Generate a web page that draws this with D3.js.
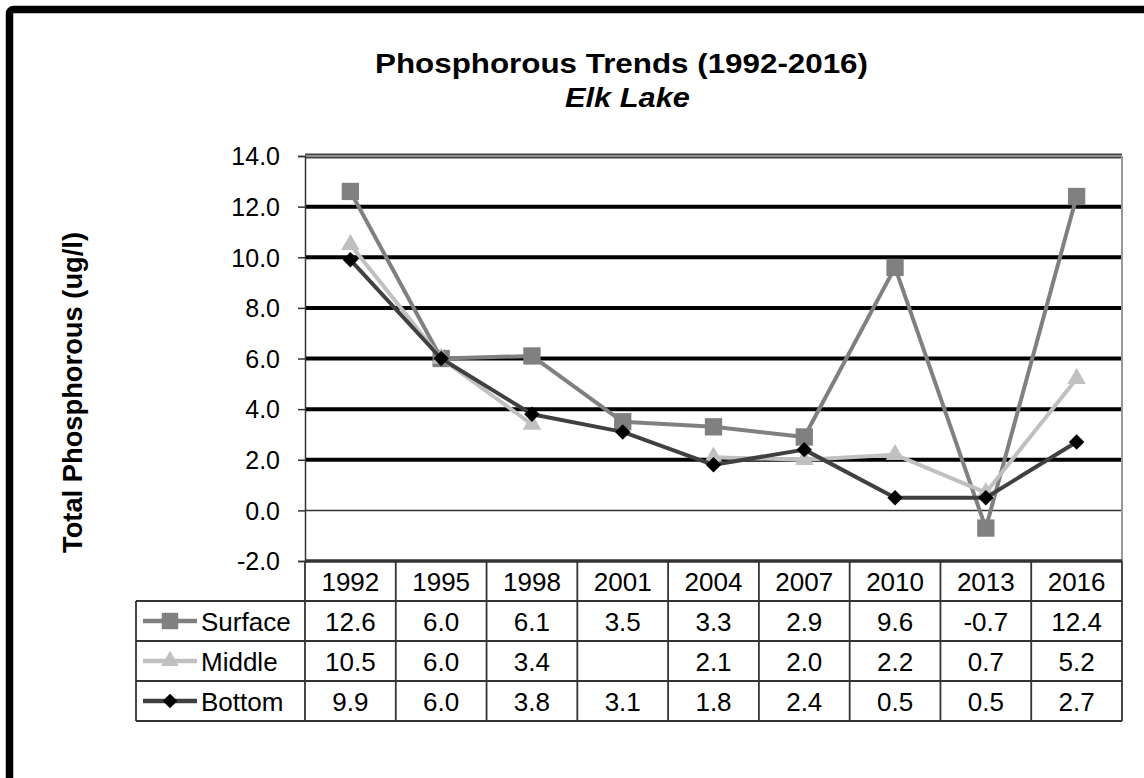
<!DOCTYPE html>
<html>
<head>
<meta charset="utf-8">
<script src="https://cdn.jsdelivr.net/npm/d3@7"></script>
<style>
  body { margin: 0; background: #fff; }
  svg { display: block; font-family: "Liberation Sans", Arial, sans-serif; }
</style>
</head>
<body>
<svg id="chart" width="1144" height="778"></svg>
<script>
// data
const years = ['1992', '1995', '1998', '2001', '2004', '2007', '2010', '2013', '2016'];
const surface = [12.6, 6.0, 6.1, 3.5, 3.3, 2.9, 9.6, -0.7, 12.4];
const middle = [10.5, 6.0, 3.4, null, 2.1, 2.0, 2.2, 0.7, 5.2];
const bottom = [9.9, 6.0, 3.8, 3.1, 1.8, 2.4, 0.5, 0.5, 2.7];
const seriesNames = ['Surface', 'Middle', 'Bottom'];
const yTicks = [-2, 0, 2, 4, 6, 8, 10, 12, 14];

const seriesValues = [surface, middle, bottom];
const lineColors = ['#808080', '#c0c0c0', '#404040'];
const markerColors = ['#808080', '#c0c0c0', '#000000'];
const markerTypes = [d3.symbolSquare, d3.symbolTriangle, d3.symbolSquare];
const markerSizes = [300, 150, 120];
const markerRotate = [0, 0, 45];

const plot = {left: 305, right: 1122, top: 156, bottom: 561};
const rowH = 40;
const tableLeft = 136;

// plain hyphen for negatives, like the source sheet
const fmt = v => v.toFixed(1);

const svg = d3.select('#chart');

const x = d3.scaleBand()
  .domain(years)
  .range([plot.left, plot.right])
  .padding(0);

const y = d3.scaleLinear()
  .domain([-2, 14])
  .range([plot.bottom, plot.top]);

const cx = d => x(d) + x.bandwidth() / 2;

// outer frame
svg.append('rect')
  .attr('x', 9.5)
  .attr('y', 9.5)
  .attr('width', 1200)
  .attr('height', 900)
  .attr('rx', 4)
  .attr('fill', 'none')
  .attr('stroke', '#000')
  .attr('stroke-width', 7.5);

// titles
svg.append('text')
  .attr('x', 375)
  .attr('y', 73)
  .attr('font-size', 27)
  .attr('font-weight', 'bold')
  .attr('textLength', 493)
  .attr('lengthAdjust', 'spacingAndGlyphs')
  .text('Phosphorous Trends (1992-2016)');

svg.append('text')
  .attr('x', 565)
  .attr('y', 107)
  .attr('font-size', 27)
  .attr('font-weight', 'bold')
  .attr('font-style', 'italic')
  .attr('textLength', 125)
  .attr('lengthAdjust', 'spacingAndGlyphs')
  .text('Elk Lake');

svg.append('text')
  .attr('transform', 'translate(82,392.5) rotate(-90)')
  .attr('text-anchor', 'middle')
  .attr('font-size', 28)
  .attr('font-weight', 'bold')
  .attr('textLength', 321)
  .attr('lengthAdjust', 'spacingAndGlyphs')
  .text('Total Phosphorous (ug/l)');

// gridlines
const grid = svg.append('g');
grid.selectAll('line')
  .data(yTicks.filter(t => t > 0 && t < 14))
  .enter().append('line')
  .attr('x1', plot.left)
  .attr('x2', plot.right)
  .attr('y1', d => y(d))
  .attr('y2', d => y(d))
  .attr('stroke', '#000')
  .attr('stroke-width', 4);

grid.append('line')
  .attr('x1', plot.left).attr('x2', plot.right)
  .attr('y1', y(0)).attr('y2', y(0))
  .attr('stroke', '#333')
  .attr('stroke-width', 1.5);

// top edge of the plot (double line look)
grid.append('line')
  .attr('x1', plot.left).attr('x2', plot.right)
  .attr('y1', y(14)).attr('y2', y(14))
  .attr('stroke', '#444')
  .attr('stroke-width', 5);
grid.append('line')
  .attr('x1', plot.left).attr('x2', plot.right)
  .attr('y1', y(14)).attr('y2', y(14))
  .attr('stroke', '#aaa')
  .attr('stroke-width', 1.5);

// right edge of plot
grid.append('line')
  .attr('x1', plot.right).attr('x2', plot.right)
  .attr('y1', plot.top).attr('y2', plot.bottom)
  .attr('stroke', '#999')
  .attr('stroke-width', 2);

// y axis
const yAxis = d3.axisLeft(y)
  .tickValues(yTicks)
  .tickSize(7)
  .tickFormat(fmt);

const axisG = svg.append('g')
  .attr('transform', `translate(${plot.left},0)`)
  .call(yAxis);
axisG.select('.domain').attr('stroke', '#333').attr('stroke-width', 1.5);
axisG.selectAll('.tick line').attr('stroke', '#333').attr('stroke-width', 1.5);
axisG.selectAll('.tick text')
  .attr('x', -25)
  .attr('dy', '0.35em')
  .attr('font-size', 25)
  .attr('font-family', '"Liberation Sans", Arial, sans-serif')
  .attr('fill', '#000');

// series lines and markers
const line = d3.line()
  .defined(d => d.v != null)
  .x(d => cx(d.year))
  .y(d => y(d.v));

seriesValues.forEach((vals, s) => {
  const pts = vals.map((v, i) => ({year: years[i], v: v}));
  svg.append('path')
    .datum(pts)
    .attr('d', line)
    .attr('fill', 'none')
    .attr('stroke', lineColors[s])
    .attr('stroke-width', 4)
    .attr('stroke-linejoin', 'round');

  svg.append('g').selectAll('path')
    .data(pts.filter(d => d.v != null))
    .enter().append('path')
    .attr('transform', d => `translate(${cx(d.year)},${y(d.v)}) rotate(${markerRotate[s]})`)
    .attr('d', d3.symbol().type(markerTypes[s]).size(markerSizes[s]))
    .attr('fill', markerColors[s]);
});

// plot bottom edge / table top
svg.append('line')
  .attr('x1', plot.left).attr('x2', plot.right)
  .attr('y1', plot.bottom).attr('y2', plot.bottom)
  .attr('stroke', '#333')
  .attr('stroke-width', 3.5);

// data table
const table = svg.append('g')
  .attr('stroke', '#333')
  .attr('stroke-width', 1.8);

const tableTop = plot.bottom;
const tableBottom = tableTop + rowH * 4;

// column lines
table.selectAll('.col')
  .data(years.concat(['end']))
  .enter().append('line')
  .attr('x1', (d, i) => plot.left + i * x.bandwidth())
  .attr('x2', (d, i) => plot.left + i * x.bandwidth())
  .attr('y1', tableTop)
  .attr('y2', tableBottom);

// row lines
table.selectAll('.row')
  .data([1, 2, 3, 4])
  .enter().append('line')
  .attr('x1', tableLeft)
  .attr('x2', plot.right)
  .attr('y1', d => tableTop + d * rowH)
  .attr('y2', d => tableTop + d * rowH);

table.append('line')
  .attr('x1', tableLeft).attr('x2', tableLeft)
  .attr('y1', tableTop + rowH).attr('y2', tableBottom);

// year header
svg.append('g').selectAll('text')
  .data(years)
  .enter().append('text')
  .attr('x', d => cx(d))
  .attr('y', tableTop + rowH / 2 + 9.5)
  .attr('text-anchor', 'middle')
  .attr('font-size', 26)
  .text(d => d);

// value rows
seriesValues.forEach((vals, s) => {
  const rowY = tableTop + rowH * (s + 1);
  svg.append('g').selectAll('text')
    .data(vals)
    .enter().append('text')
    .attr('x', (d, i) => cx(years[i]))
    .attr('y', rowY + rowH / 2 + 9.5)
    .attr('text-anchor', 'middle')
    .attr('font-size', 26)
    .text(d => d == null ? '' : fmt(d));

  // legend key
  const key = svg.append('g')
    .attr('transform', `translate(0,${rowY + rowH / 2})`);
  key.append('line')
    .attr('x1', 143).attr('x2', 197)
    .attr('y1', 0).attr('y2', 0)
    .attr('stroke', lineColors[s])
    .attr('stroke-width', 4.5);
  key.append('path')
    .attr('transform', `translate(170,0) rotate(${markerRotate[s]})`)
    .attr('d', d3.symbol().type(markerTypes[s]).size(markerSizes[s] * 0.9))
    .attr('fill', markerColors[s]);
  key.append('text')
    .attr('x', 201)
    .attr('y', 9.5)
    .attr('font-size', 26)
    .text(seriesNames[s]);
});
</script>
</body>
</html>
